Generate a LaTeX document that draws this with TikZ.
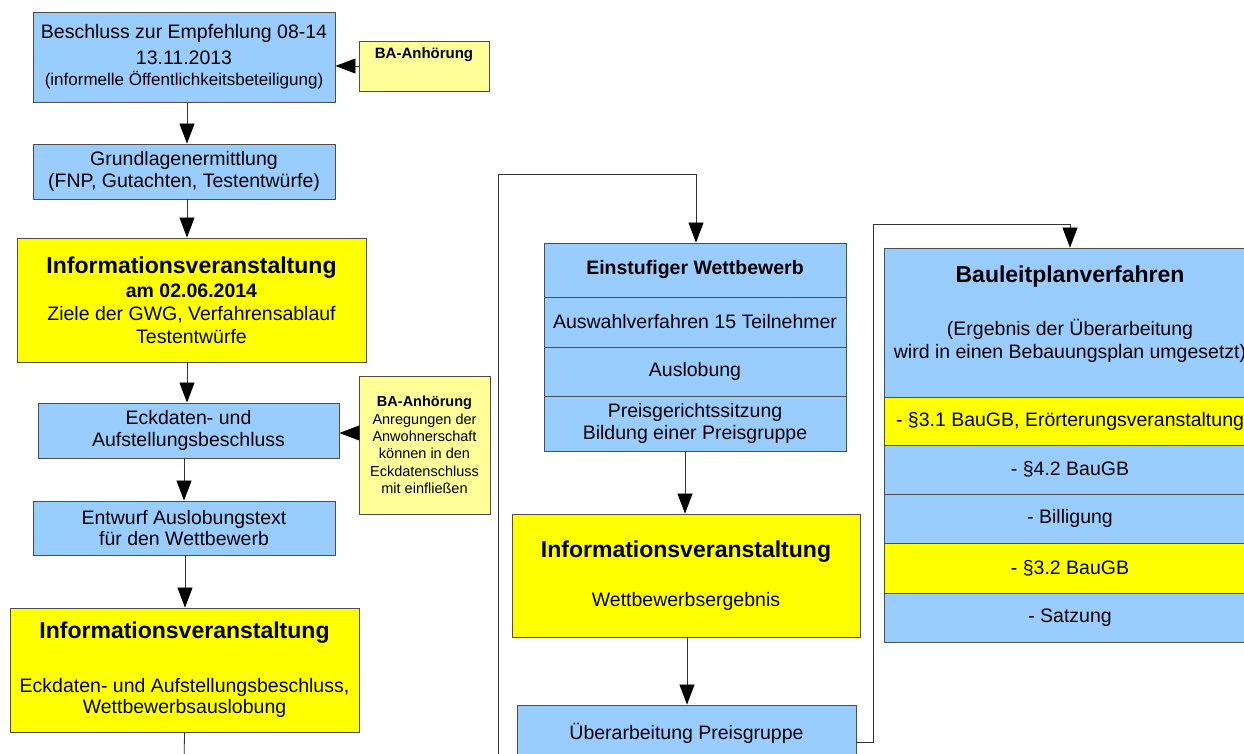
\documentclass[tikz,border=0pt]{standalone}
\usepackage{fontspec}
\setmainfont{Liberation Sans}
\usetikzlibrary{arrows.meta}
\definecolor{boxblue}{HTML}{99CCFF}
\definecolor{boxyellow}{HTML}{FFFF00}
\definecolor{paleyellow}{HTML}{FFFF99}
\definecolor{edgegray}{HTML}{4D4D4D}
\begin{document}
\begin{tikzpicture}[x=1pt,y=-1pt,
  box/.style={draw=edgegray, line width=0.9pt, inner sep=0pt, align=center,
    font=\fontsize{19.5}{21.5}\selectfont, anchor=center},
  bluebox/.style={box, fill=boxblue},
  yelbox/.style={box, fill=boxyellow},
  palebox/.style={box, fill=paleyellow},
  sz/.style n args={2}{minimum width=#1, minimum height=#2},
  arr/.style={draw=black!80, line width=0.8pt, -{Triangle[length=20pt,width=15pt,color=black]}},
  conn/.style={draw=black!80, line width=0.8pt}
]
\useasboundingbox (0,0) rectangle (1244,754);
\fill[white] (0,0) rectangle (1244,754);
\clip (0,0) rectangle (1244,754);

% left column
\node[bluebox, sz={302pt}{90pt}] (b1) at (184,57)
  {Beschluss zur Empfehlung 08-14\\[4pt]13.11.2013\\{\fontsize{17}{20}\selectfont (informelle Öffentlichkeitsbeteiligung)}};
\node[palebox, sz={130pt}{50pt},
  label={[font=\bfseries\fontsize{15}{17}\selectfont, anchor=north, inner sep=0pt, yshift=-7pt]north:BA-Anhörung}] (ba1) at (424,66) {};
\node[bluebox, sz={302pt}{55pt}] (b2) at (184,171.5)
  {Grundlagenermittlung\\(FNP, Gutachten, Testentwürfe)};
\node[yelbox, sz={349pt}{124pt}, font=\fontsize{19.5}{23}\selectfont] (i1) at (191.5,300)
  {{\bfseries\fontsize{23}{26}\selectfont Informationsveranstaltung}\\[1pt]
   {\bfseries\fontsize{19.5}{23}\selectfont am 02.06.2014}\\
   Ziele der GWG, Verfahrensablauf\\Testentwürfe};
\node[bluebox, sz={301pt}{55pt}] (e1) at (188.5,430.5)
  {Eckdaten- und\\Aufstellungsbeschluss};
\node[palebox, sz={131pt}{138pt}, font=\fontsize{14.5}{17.4}\selectfont] (ba2) at (424.5,445)
  {{\bfseries BA-Anhörung}\\Anregungen der\\Anwohnerschaft\\können in den\\Eckdatenschluss\\mit einfließen};
\node[bluebox, sz={302pt}{54pt}] (en) at (184,528)
  {Entwurf Auslobungstext\\für den Wettbewerb};
\node[yelbox, sz={349pt}{124pt}] (i2) at (184.5,670)
  {{\bfseries\fontsize{23}{26}\selectfont Informationsveranstaltung}\\[32pt]
   Eckdaten- und Aufstellungsbeschluss,\\Wettbewerbsauslobung};

% middle column
\node[bluebox, sz={302pt}{54pt}, font=\bfseries\fontsize{19.5}{21.5}\selectfont] (ew1) at (695,270) {Einstufiger Wettbewerb};
\node[bluebox, sz={302pt}{50pt}] (ew2) at (695,322) {Auswahlverfahren 15 Teilnehmer};
\node[bluebox, sz={302pt}{49pt}] (ew3) at (695,371.5) {Auslobung};
\node[bluebox, sz={302pt}{55pt}] (ew4) at (695,423.5) {Preisgerichtssitzung\\Bildung einer Preisgruppe};
\node[yelbox, sz={348pt}{123pt}] (i3) at (686,575.5)
  {{\bfseries\fontsize{23}{26}\selectfont Informationsveranstaltung}\\[27pt]Wettbewerbsergebnis};
\node[bluebox, sz={339pt}{56pt}] (ub) at (686.5,733) {Überarbeitung Preisgruppe};

% right column
\node[bluebox, sz={372pt}{149pt},
  label={[align=center, anchor=north, inner sep=0pt, yshift=-18pt, font=\fontsize{19.5}{23}\selectfont]north:{{\bfseries\fontsize{23}{26}\selectfont Bauleitplanverfahren}\\[30pt](Ergebnis der Überarbeitung\\wird in einen Bebauungsplan umgesetzt)}}] (bl1) at (1070,322.5) {};
\node[yelbox, sz={372pt}{48pt}] (bl2) at (1070,421) {- §3.1 BauGB, Erörterungsveranstaltung};
\node[bluebox, sz={372pt}{49pt}] (bl3) at (1070,469.5) {- §4.2 BauGB};
\node[bluebox, sz={372pt}{49pt}] (bl4) at (1070,518.5) {- Billigung};
\node[yelbox, sz={372pt}{50pt}] (bl5) at (1070,568) {- §3.2 BauGB};
\node[bluebox, sz={372pt}{49pt}] (bl6) at (1070,617.5) {- Satzung};

% coordinates for free ends and bends
\coordinate (out1) at (184,770);
\coordinate (out2) at (498,770);
\coordinate (c1) at (498,174);
\coordinate (c2) at (873,224);

% connectors
\draw[arr] (ba1.west) -- (b1.east |- ba1.west);
\draw[arr] ([xshift=3pt]b1.south) -- ([xshift=3pt]b1.south |- b2.north);
\draw[arr] ([xshift=3pt]b2.south) -- ([xshift=3pt]b2.south |- i1.north);
\draw[arr] ([xshift=-4.5pt]i1.south) -- ([xshift=-4.5pt]i1.south |- e1.north);
\draw[arr] ([yshift=12pt]ba2.west) -- ([yshift=12pt]ba2.west -| e1.east);
\draw[arr] ([xshift=-4.5pt]e1.south) -- ([xshift=-4.5pt]e1.south |- en.north);
\draw[arr] ([xshift=1pt]en.south) -- ([xshift=1pt]en.south |- i2.north);
\draw[conn] (i2.south) -- (out1);
\draw[arr] (out2) -- (c1) -| ([xshift=1pt]ew1.north);
\draw[arr] ([xshift=-10pt]ew4.south) -- ([xshift=-10pt]ew4.south |- i3.north);
\draw[arr] ([xshift=1pt]i3.south) -- ([xshift=1pt]i3.south |- ub.north);
\draw[arr] ([yshift=-9pt]ub.east) -| (c2) -| (bl1.north);
\end{tikzpicture}
\end{document}
